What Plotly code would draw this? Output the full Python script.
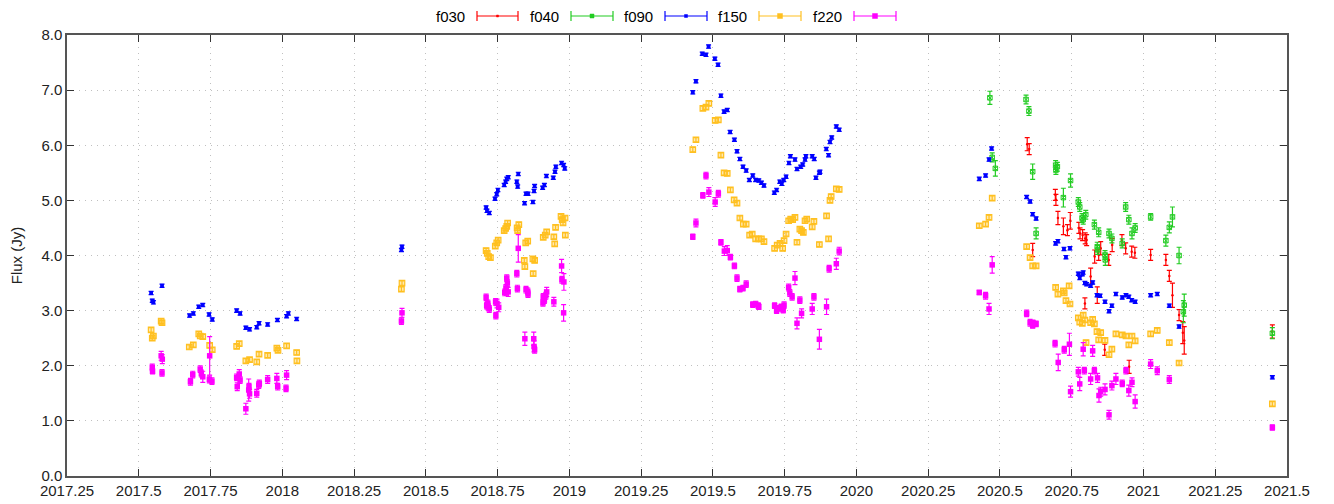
import plotly.graph_objects as go

# ---------------- data ----------------
f030_x = [2020.595, 2020.602, 2020.614, 2020.693, 2020.695, 2020.702, 2020.721, 2020.735, 2020.745,
          2020.775, 2020.779, 2020.788, 2020.797, 2020.802, 2020.816, 2020.796, 2020.830, 2020.844,
          2020.851, 2020.839, 2020.865, 2020.879, 2020.891, 2020.925, 2020.938, 2020.950, 2020.959,
          2020.970, 2021.025, 2021.078, 2021.090, 2021.101, 2021.124, 2021.137, 2021.142, 2021.449]
f030_y = [6.02, 5.93, 4.10, 5.10, 5.01, 4.68, 4.53, 4.46, 4.63,
          4.50, 4.40, 4.37, 4.31, 4.28, 3.62, 3.13, 3.98, 4.01,
          4.13, 3.28, 2.29, 3.92, 4.19, 4.28, 4.13, 1.98, 4.07,
          4.05, 4.01, 3.92, 3.63, 3.28, 2.92, 2.60, 2.46, 2.62]
f030_e = [0.12, 0.10, 0.12, 0.10, 0.10, 0.12, 0.15, 0.10, 0.15,
          0.10, 0.10, 0.10, 0.10, 0.10, 0.15, 0.10, 0.12, 0.10,
          0.12, 0.15, 0.10, 0.10, 0.12, 0.10, 0.10, 0.12, 0.10,
          0.10, 0.10, 0.10, 0.10, 0.22, 0.10, 0.20, 0.25, 0.12]

f040_x = [2020.465, 2020.473, 2020.484, 2020.591, 2020.601, 2020.614, 2020.626, 2020.694, 2020.700,
          2020.695, 2020.721, 2020.746, 2020.773, 2020.778, 2020.786, 2020.790, 2020.799, 2020.829,
          2020.844, 2020.839, 2020.840, 2020.866, 2020.867, 2020.880, 2020.890, 2020.926, 2020.938,
          2020.949, 2020.960, 2020.971, 2021.025, 2021.078, 2021.090, 2021.101, 2021.124, 2021.139,
          2021.142, 2021.449]
f040_y = [6.86, 5.78, 5.58, 6.83, 6.62, 5.52, 4.40, 5.64, 5.61,
          5.55, 5.05, 5.36, 4.97, 4.88, 4.68, 4.65, 4.74, 4.56,
          4.42, 4.16, 4.10, 4.01, 3.92, 4.40, 4.31, 4.22, 4.88,
          4.65, 4.40, 4.50, 4.70, 4.27, 4.51, 4.70, 4.00, 2.98,
          3.10, 2.59]
f040_e = [0.12, 0.08, 0.14, 0.08, 0.08, 0.14, 0.10, 0.08, 0.08,
          0.08, 0.17, 0.12, 0.08, 0.08, 0.08, 0.08, 0.08, 0.08,
          0.08, 0.08, 0.08, 0.08, 0.10, 0.08, 0.08, 0.08, 0.08,
          0.08, 0.10, 0.08, 0.06, 0.10, 0.10, 0.18, 0.15, 0.20,
          0.20, 0.10]

f090_x = [2017.543, 2017.547, 2017.551, 2017.581, 2017.677, 2017.690, 2017.709, 2017.723, 2017.745,
          2017.756, 2017.841, 2017.853, 2017.873, 2017.886, 2017.911, 2017.919, 2017.949, 2017.983,
          2018.015, 2018.021, 2018.050,
          2018.415, 2018.417,
          2018.710, 2018.713, 2018.721, 2018.741, 2018.747, 2018.751, 2018.773, 2018.778, 2018.782,
          2018.787, 2018.817, 2018.820, 2018.822, 2018.844, 2018.849, 2018.856, 2018.873, 2018.877,
          2018.879, 2018.907, 2018.913, 2018.920, 2018.944, 2018.950, 2018.953, 2018.973, 2018.980,
          2018.984,
          2019.430, 2019.441, 2019.463, 2019.476, 2019.485, 2019.507, 2019.518, 2019.528, 2019.539,
          2019.550, 2019.560, 2019.575, 2019.584, 2019.594, 2019.605, 2019.616, 2019.627, 2019.639,
          2019.649, 2019.660, 2019.669, 2019.678, 2019.714, 2019.722, 2019.733, 2019.740, 2019.747,
          2019.755, 2019.765, 2019.770, 2019.786, 2019.793, 2019.806, 2019.813, 2019.821, 2019.824,
          2019.846, 2019.853, 2019.859, 2019.871, 2019.873, 2019.895, 2019.903, 2019.908, 2019.914,
          2019.930, 2019.940,
          2020.428, 2020.450, 2020.462, 2020.471, 2020.593, 2020.605, 2020.614, 2020.626, 2020.694,
          2020.702, 2020.723, 2020.730, 2020.744, 2020.773, 2020.778, 2020.787, 2020.790, 2020.796,
          2020.802, 2020.816, 2020.823, 2020.838, 2020.849, 2020.866, 2020.880, 2020.890, 2020.904,
          2020.926, 2020.939, 2020.949, 2020.959, 2020.971, 2021.025, 2021.048, 2021.090, 2021.124,
          2021.449]
f090_y = [3.32, 3.18, 3.15, 3.45, 2.91, 2.95, 3.07, 3.10, 2.93,
          2.84, 3.00, 2.95, 2.69, 2.66, 2.70, 2.77, 2.75, 2.83,
          2.90, 2.95, 2.85,
          4.10, 4.16,
          4.87, 4.81, 4.77, 5.03, 5.11, 5.19, 5.28, 5.34, 5.39,
          5.42, 5.34, 5.25, 5.48, 4.95, 5.12, 5.12, 4.97, 5.17,
          5.26, 5.23, 5.28, 5.44, 5.41, 5.52, 5.61, 5.68, 5.64,
          5.58,
          6.96, 7.16, 7.66, 7.64, 7.79, 7.57, 7.46, 6.90, 6.61,
          6.64, 6.24, 6.10, 5.89, 5.75, 5.61, 5.54, 5.37, 5.45,
          5.37, 5.36, 5.32, 5.27, 5.14, 5.19, 5.34, 5.30, 5.37,
          5.43, 5.68, 5.80, 5.74, 5.57, 5.61, 5.65, 5.74, 5.80,
          5.80, 5.75, 5.41, 5.50, 5.52, 5.93, 5.82, 6.06, 6.14,
          6.34, 6.28,
          5.39, 5.45, 5.74, 5.94, 5.06, 4.98, 4.75, 4.67, 4.22,
          4.26, 4.12, 3.97, 4.13, 3.67, 3.59, 3.66, 3.69, 3.50,
          3.48, 3.45, 3.51, 3.28, 3.27, 3.16, 2.99, 3.09, 3.30,
          3.24, 3.28, 3.25, 3.19, 3.16, 3.28, 3.30, 3.09, 2.71,
          1.79]

f150_x = [2017.543, 2017.547, 2017.551, 2017.578, 2017.581, 2017.676, 2017.690, 2017.709, 2017.714,
          2017.723, 2017.747, 2017.756, 2017.841, 2017.850, 2017.873, 2017.886, 2017.911, 2017.919,
          2017.949, 2017.981, 2017.985, 2018.015, 2018.050, 2018.051,
          2018.417, 2018.415,
          2018.710, 2018.714, 2018.719, 2018.725, 2018.742, 2018.747, 2018.752, 2018.773, 2018.778,
          2018.782, 2018.785, 2018.818, 2018.820, 2018.824, 2018.843, 2018.845, 2018.848, 2018.855,
          2018.873, 2018.879, 2018.874, 2018.909, 2018.916, 2018.921, 2018.946, 2018.952, 2018.949,
          2018.971, 2018.975, 2018.978, 2018.985, 2018.986,
          2019.430, 2019.441, 2019.465, 2019.476, 2019.486, 2019.508, 2019.519, 2019.528, 2019.539,
          2019.550, 2019.561, 2019.574, 2019.584, 2019.594, 2019.606, 2019.616, 2019.628, 2019.637,
          2019.649, 2019.660, 2019.669, 2019.678, 2019.715, 2019.724, 2019.734, 2019.743, 2019.748,
          2019.755, 2019.764, 2019.771, 2019.778, 2019.786, 2019.793, 2019.803, 2019.809, 2019.815,
          2019.821, 2019.827, 2019.846, 2019.852, 2019.871, 2019.896, 2019.903, 2019.908, 2019.912,
          2019.930, 2019.940,
          2020.428, 2020.450, 2020.462, 2020.473, 2020.593, 2020.605, 2020.614, 2020.626, 2020.694,
          2020.702, 2020.721, 2020.724, 2020.730, 2020.741, 2020.744, 2020.773, 2020.778, 2020.787,
          2020.790, 2020.796, 2020.800, 2020.816, 2020.823, 2020.829, 2020.838, 2020.844, 2020.851,
          2020.866, 2020.880, 2020.890, 2020.904, 2020.926, 2020.939, 2020.949, 2020.960, 2020.971,
          2021.025, 2021.048, 2021.090, 2021.124, 2021.449]
f150_y = [2.65, 2.50, 2.54, 2.81, 2.78, 2.34, 2.38, 2.58, 2.54,
          2.53, 2.37, 2.29, 2.35, 2.40, 2.09, 2.11, 2.07, 2.21,
          2.19, 2.32, 2.28, 2.36, 2.24, 2.09,
          3.50, 3.39,
          4.09, 4.04, 3.98, 3.96, 4.17, 4.23, 4.28, 4.45, 4.49,
          4.53, 4.59, 4.50, 4.45, 4.56, 3.91, 3.80, 4.23, 4.26,
          3.94, 3.91, 3.67, 4.33, 4.37, 4.43, 4.34, 4.51, 4.21,
          4.71, 4.65, 4.59, 4.68, 4.37,
          5.92, 6.10, 6.67, 6.69, 6.76, 6.45, 6.46, 5.82, 5.50,
          5.49, 5.19, 5.01, 4.95, 4.68, 4.57, 4.57, 4.37, 4.39,
          4.30, 4.30, 4.30, 4.25, 4.13, 4.19, 4.22, 4.13, 4.27,
          4.39, 4.63, 4.66, 4.65, 4.69, 4.24, 4.48, 4.45, 4.42,
          4.63, 4.66, 4.52, 4.62, 4.20, 4.72, 4.30, 5.00, 5.07,
          5.21, 5.20,
          4.54, 4.57, 4.69, 5.04, 4.16, 3.96, 3.81, 3.81, 3.42,
          3.30, 3.36, 3.32, 3.18, 3.45, 3.12, 2.87, 2.79, 2.77,
          2.92, 2.83, 2.42, 2.78, 2.84, 2.76, 2.62, 2.47, 2.60,
          2.46, 2.20, 2.30, 2.58, 2.56, 2.54, 2.38, 2.54, 2.45,
          2.58, 2.64, 2.42, 2.05, 1.31]

f220_x = [2017.547, 2017.548, 2017.578, 2017.582, 2017.581, 2017.680, 2017.688, 2017.714, 2017.718,
          2017.723, 2017.747, 2017.746, 2017.755, 2017.841, 2017.850, 2017.843, 2017.853, 2017.873,
          2017.883, 2017.886, 2017.884, 2017.911, 2017.918, 2017.920, 2017.949, 2017.981, 2017.984,
          2018.015, 2018.013,
          2018.417, 2018.415,
          2018.710, 2018.712, 2018.717, 2018.721, 2018.716, 2018.743, 2018.748, 2018.754, 2018.744,
          2018.782, 2018.784, 2018.779, 2018.781, 2018.787, 2018.775, 2018.817, 2018.819, 2018.822,
          2018.849, 2018.855, 2018.856, 2018.845, 2018.876, 2018.877, 2018.879, 2018.909, 2018.913,
          2018.918, 2018.921, 2018.908, 2018.946, 2018.973, 2018.974, 2018.981, 2018.980,
          2019.430, 2019.441, 2019.465, 2019.476, 2019.486, 2019.508, 2019.519, 2019.528, 2019.540,
          2019.550, 2019.561, 2019.575, 2019.584, 2019.594, 2019.605, 2019.616, 2019.639, 2019.649,
          2019.658, 2019.660, 2019.715, 2019.722, 2019.731, 2019.738, 2019.745, 2019.748, 2019.764,
          2019.768, 2019.776, 2019.786, 2019.793, 2019.803, 2019.809, 2019.846, 2019.852, 2019.871,
          2019.896, 2019.905, 2019.930, 2019.940,
          2020.428, 2020.450, 2020.462, 2020.473, 2020.593, 2020.605, 2020.614, 2020.626, 2020.615,
          2020.692, 2020.703, 2020.724, 2020.742, 2020.746, 2020.773, 2020.778, 2020.794, 2020.790,
          2020.816, 2020.823, 2020.829, 2020.840, 2020.845, 2020.851, 2020.866, 2020.880, 2020.890,
          2020.904, 2020.926, 2020.939, 2020.949, 2020.960, 2020.971, 2021.025, 2021.048, 2021.090,
          2021.449]
f220_y = [1.97, 1.90, 2.18, 2.12, 1.87, 1.71, 1.84, 1.94, 1.86,
          1.80, 2.18, 1.75, 1.72, 1.79, 1.85, 1.62, 1.74, 1.22,
          1.56, 1.49, 1.62, 1.50, 1.65, 1.68, 1.75, 1.77, 1.62,
          1.83, 1.59,
          2.96, 2.81,
          3.24, 3.09, 3.07, 3.03, 3.13, 3.16, 3.13, 3.06, 2.91,
          3.59, 3.50, 3.41, 3.34, 3.34, 3.33, 3.67, 3.40, 4.13,
          3.38, 3.35, 3.30, 2.49, 2.49, 2.35, 2.29, 3.25, 3.19,
          3.27, 3.34, 3.14, 3.16, 3.81, 3.56, 3.52, 2.96,
          4.34, 4.59, 5.09, 5.45, 5.15, 4.97, 5.12, 4.24, 4.08,
          4.09, 3.97, 3.81, 3.59, 3.39, 3.41, 3.48, 3.11, 3.12,
          3.09, 3.07, 3.09, 3.00, 3.04, 3.07, 3.01, 3.10, 3.42,
          3.32, 3.25, 3.59, 2.77, 3.19, 2.95, 3.03, 3.25, 2.48,
          3.07, 3.76, 3.85, 4.08,
          3.33, 3.27, 3.03, 3.83, 2.95, 2.78, 2.73, 2.76, 2.78,
          2.40, 2.06, 2.29, 2.39, 1.53, 1.89, 1.67, 1.91, 2.30,
          1.76, 2.27, 1.91, 1.78, 1.46, 1.53, 1.57, 1.11, 1.64,
          1.76, 1.68, 1.91, 1.55, 1.70, 1.35, 2.03, 1.91, 1.75,
          0.88]
f220_e = [0.06, 0.05, 0.08, 0.08, 0.06, 0.06, 0.06, 0.06, 0.06,
          0.10, 0.35, 0.06, 0.06, 0.06, 0.08, 0.07, 0.06, 0.10,
          0.20, 0.08, 0.06, 0.07, 0.06, 0.06, 0.07, 0.09, 0.06,
          0.08, 0.06,
          0.08, 0.06,
          0.06, 0.06, 0.06, 0.06, 0.06, 0.06, 0.08, 0.08, 0.06,
          0.06, 0.06, 0.06, 0.06, 0.08, 0.06, 0.06, 0.06, 0.25,
          0.06, 0.06, 0.06, 0.12, 0.12, 0.10, 0.06, 0.06, 0.06,
          0.06, 0.08, 0.06, 0.08, 0.12, 0.06, 0.15, 0.15,
          0.05, 0.07, 0.05, 0.06, 0.08, 0.08, 0.06, 0.05, 0.08,
          0.09, 0.05, 0.05, 0.06, 0.05, 0.05, 0.06, 0.05, 0.05,
          0.05, 0.05, 0.05, 0.05, 0.05, 0.05, 0.05, 0.06, 0.06,
          0.06, 0.06, 0.12, 0.10, 0.06, 0.08, 0.10, 0.06, 0.18,
          0.14, 0.06, 0.10, 0.07,
          0.04, 0.06, 0.10, 0.15, 0.06, 0.06, 0.05, 0.05, 0.05,
          0.06, 0.15, 0.06, 0.20, 0.10, 0.08, 0.12, 0.06, 0.12,
          0.10, 0.10, 0.06, 0.08, 0.12, 0.08, 0.10, 0.08, 0.08,
          0.10, 0.06, 0.06, 0.10, 0.08, 0.12, 0.08, 0.07, 0.07,
          0.05]

x_tickvals = [2017.25, 2017.5, 2017.75, 2018, 2018.25, 2018.5, 2018.75, 2019, 2019.25,
              2019.5, 2019.75, 2020, 2020.25, 2020.5, 2020.75, 2021, 2021.25, 2021.5]
x_ticktext = ["2017.25", "2017.5", "2017.75", "2018", "2018.25", "2018.5", "2018.75", "2019", "2019.25",
              "2019.5", "2019.75", "2020", "2020.25", "2020.5", "2020.75", "2021", "2021.25", "2021.5"]
y_tickvals = [0, 1, 2, 3, 4, 5, 6, 7, 8]

names = ["f030", "f040", "f090", "f150", "f220"]
colors = ["#ff0000", "#22cc22", "#0000ff", "#ffc020", "#ff00ff"]

# ---------------- figure ----------------
fig = go.Figure()

def add(x, y, err, name, color, symbol, size, lw=0, fill=None):
    if isinstance(err, list):
        ey = dict(type="data", array=err, visible=True, color=color, thickness=1.2, width=2.5)
    else:
        ey = dict(type="constant", value=err, visible=True, color=color, thickness=1.2, width=2.5)
    fig.add_trace(go.Scatter(
        x=x, y=y, mode="markers", name=name, showlegend=False,
        marker=dict(symbol=symbol, size=size, color=fill if fill else color,
                    line=dict(width=lw, color=color)),
        error_y=ey,
    ))

add(f030_x, f030_y, f030_e, names[0], colors[0], "circle", 2.5)
add(f040_x, f040_y, f040_e, names[1], colors[1], "square-x-open", 4.5, lw=1)
add(f090_x, f090_y, 0.03, names[2], colors[2], "square", 3.8)
add(f150_x, f150_y, 0.04, names[3], colors[3], "square", 5.5, lw=1.2, fill="rgba(255,192,32,0.35)")
add(f220_x, f220_y, f220_e, names[4], colors[4], "square", 5.5)

# ---------------- layout (page body adds an 8px offset) ----------------
OFF = 8
W, H = 1334 - OFF, 504 - OFF
# target plot area in window pixels: x 67..1287, y 35..476
L = 67 - OFF
T = 35 - OFF
R = W - (1287 - OFF)
B = H - (476 - OFF)
pw, ph = W - L - R, H - T - B

def px(x):
    # window pixel x -> paper
    return (x - OFF - L) / pw

def py(y):
    # window pixel y -> paper
    return (H - B - (y - OFF)) / ph

key_text_right = [467, 561, 655, 749, 844]
key_line = [(477, 518), (571, 613), (665, 707), (759, 801), (854, 896)]
key_marker = [2, 4, 3, 5, 5]
key_y = 16
shapes = []
annotations = []
for i in range(5):
    annotations.append(dict(x=px(key_text_right[i]), y=py(key_y), xref="paper", yref="paper",
                            text=names[i], showarrow=False, xanchor="right", yanchor="middle",
                            font=dict(size=15, color="#000000")))
    x0, x1 = key_line[i]
    c = colors[i]
    shapes.append(dict(type="line", xref="paper", yref="paper", x0=px(x0), x1=px(x1),
                       y0=py(key_y), y1=py(key_y), line=dict(color=c, width=1.2)))
    for xx in (x0, x1):
        shapes.append(dict(type="line", xref="paper", yref="paper", x0=px(xx), x1=px(xx),
                           y0=py(key_y - 5), y1=py(key_y + 5), line=dict(color=c, width=1.2)))
    m = key_marker[i] / 2
    xm = (x0 + x1) / 2
    shapes.append(dict(type="rect", xref="paper", yref="paper", x0=px(xm - m), x1=px(xm + m),
                       y0=py(key_y + m), y1=py(key_y - m), line=dict(color=c, width=0.5),
                       fillcolor=c))

axis_common = dict(
    showline=True, linecolor="#555555", linewidth=1.5, mirror="allticks",
    ticks="inside", ticklen=7, tickcolor="#333333", tickwidth=1,
    showgrid=True, gridcolor="#c0c0c0", griddash="1px,5px", gridwidth=1,
    zeroline=False, tickfont=dict(size=15, color="#222222"), automargin=False,
)

fig.update_layout(
    width=W, height=H,
    margin=dict(l=L, r=R, t=T, b=B, autoexpand=False),
    paper_bgcolor="white", plot_bgcolor="white",
    font=dict(family="Liberation Sans, Arial, sans-serif", size=15, color="#222222"),
    showlegend=False,
    xaxis=dict(range=[2017.25, 2021.5], tickvals=x_tickvals, ticktext=x_ticktext, **axis_common),
    yaxis=dict(range=[0, 8], tickvals=y_tickvals, tickformat=".1f",
               title=dict(text="Flux (Jy)", font=dict(size=15), standoff=18), **axis_common),
    shapes=shapes,
    annotations=annotations,
)

fig.write_html("out.html")
